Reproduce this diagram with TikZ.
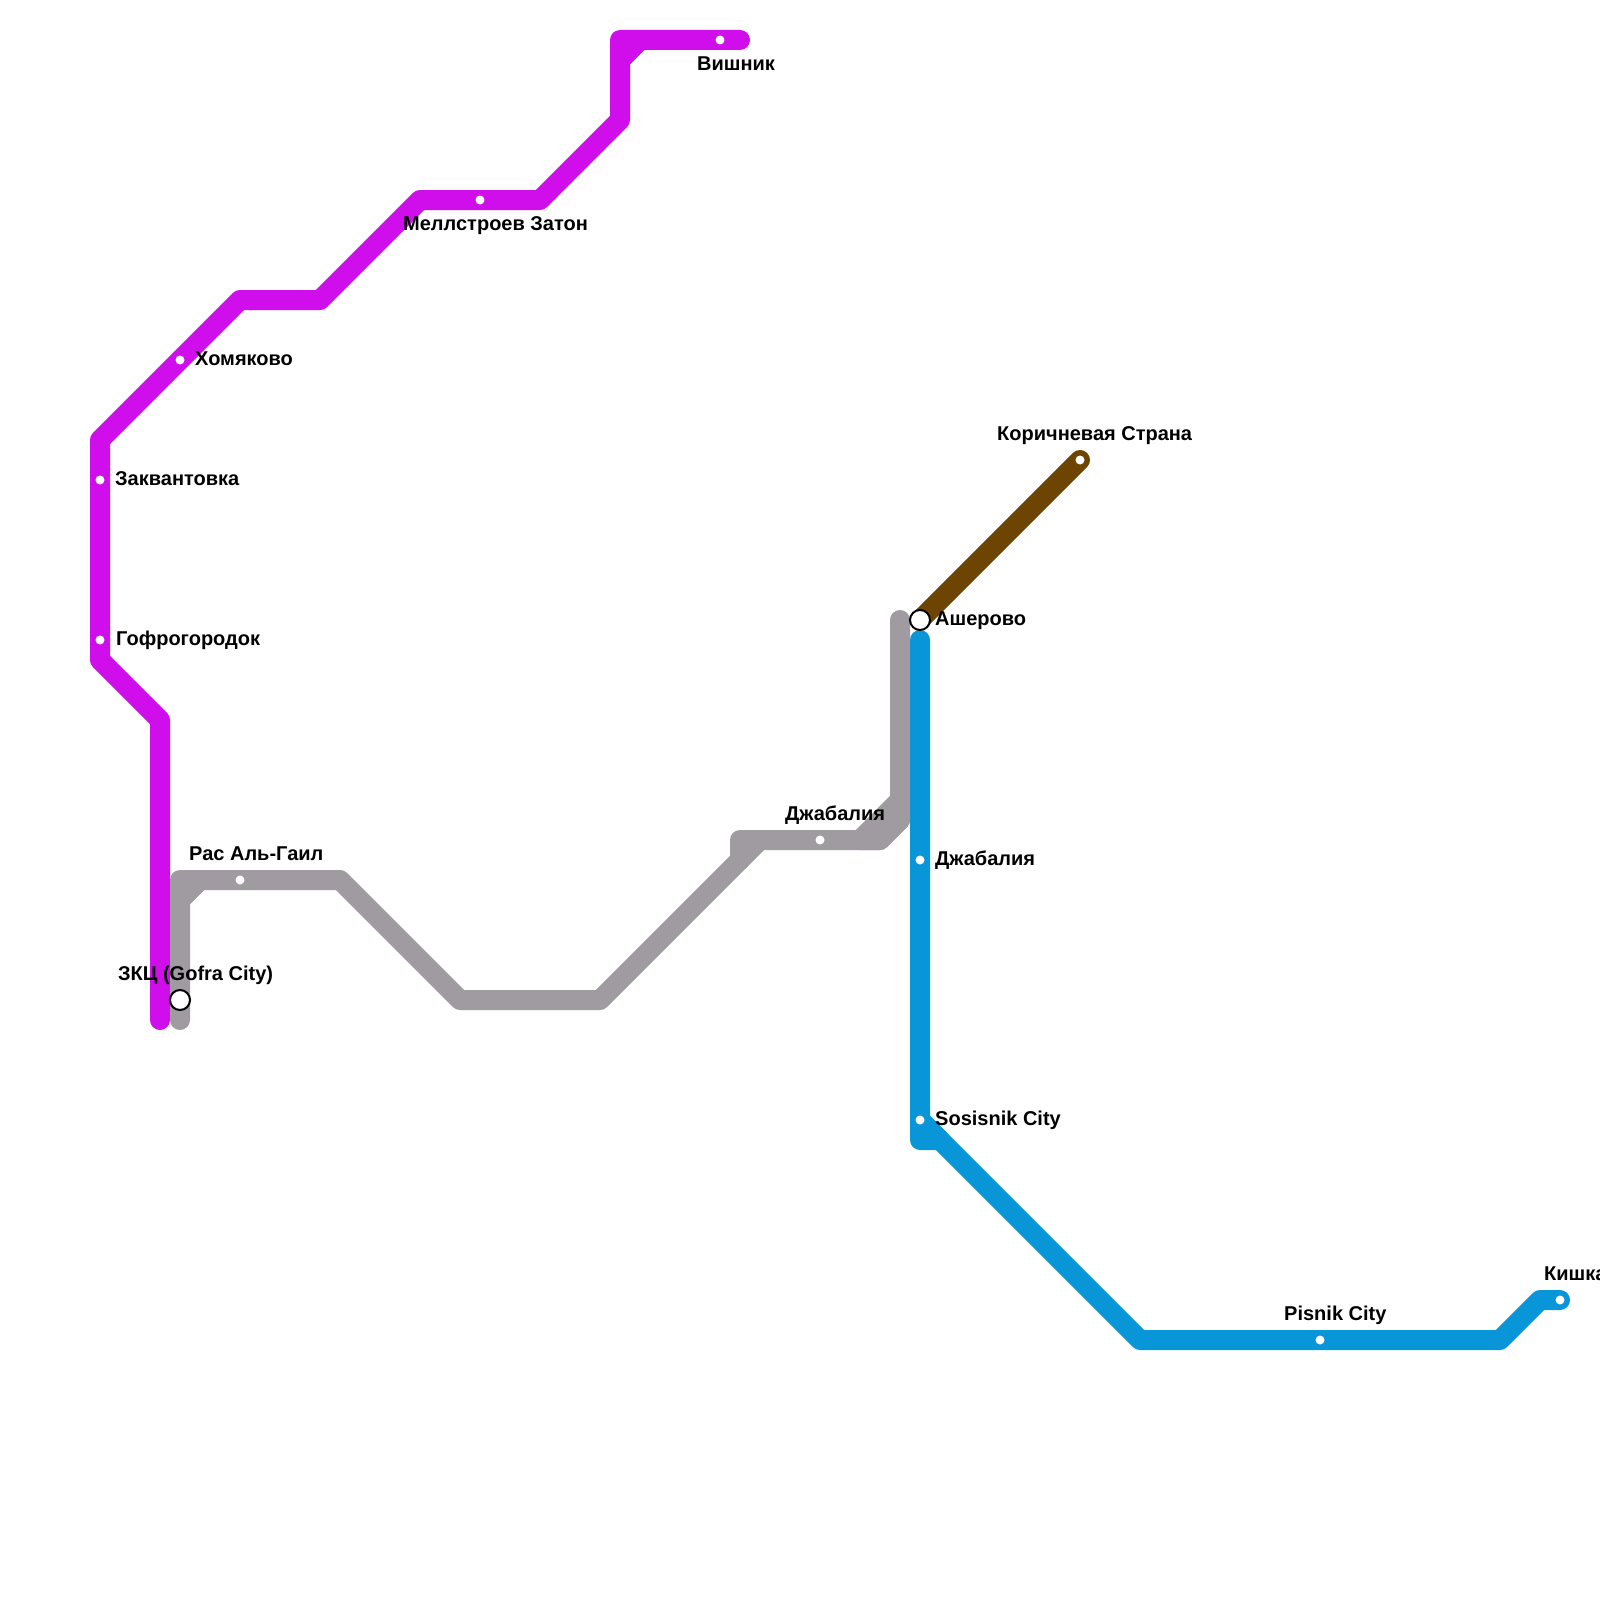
\documentclass[tikz,border=0pt]{standalone}
\usepackage{fontspec}
\setmainfont{Liberation Sans}
\definecolor{linepurple}{HTML}{D00EEC}
\definecolor{linegrey}{HTML}{A09BA1}
\definecolor{lineblue}{HTML}{0996D8}
\definecolor{linebrown}{HTML}{6E4500}
\tikzset{
  metro/.style={line width=20pt,line cap=round,line join=round},
  stub/.style={metro,fill=#1,draw=#1},
  dot/.style={circle,fill=white,draw=none,minimum size=9pt,inner sep=0pt},
  hub/.style={circle,fill=white,draw=black,line width=2pt,minimum size=20pt,inner sep=0pt},
  lbl/.style={anchor=base west,inner sep=0pt,font=\fontsize{20}{24}\selectfont\bfseries,text=black}
}
\begin{document}
\begin{tikzpicture}[x=1pt,y=-1pt]
\useasboundingbox (0,0) rectangle (1600,1600);
% bends, purple
\coordinate (p1) at (740,40);
\coordinate (p2) at (640,40);
\coordinate (p3) at (620,40);
\coordinate (p4) at (620,60);
\coordinate (p5) at (620,120);
\coordinate (p6) at (540,200);
\coordinate (p7) at (420,200);
\coordinate (p8) at (320,300);
\coordinate (p9) at (240,300);
\coordinate (p10) at (100,440);
\coordinate (p11) at (100,660);
\coordinate (p12) at (160,720);
\coordinate (p13) at (160,1020);
% bends, grey
\coordinate (g1) at (180,1020);
\coordinate (g2) at (180,900);
\coordinate (g3) at (180,880);
\coordinate (g4) at (200,880);
\coordinate (g5) at (340,880);
\coordinate (g6) at (460,1000);
\coordinate (g7) at (600,1000);
\coordinate (g8) at (760,840);
\coordinate (g9) at (740,840);
\coordinate (g10) at (740,860);
\coordinate (g11) at (860,840);
\coordinate (g12) at (880,840);
\coordinate (g13) at (900,820);
\coordinate (g14) at (900,800);
\coordinate (g15) at (900,620);
% bends, blue
\coordinate (b1) at (920,640);
\coordinate (b2) at (920,1120);
\coordinate (b3) at (920,1140);
\coordinate (b4) at (940,1140);
\coordinate (b5) at (1140,1340);
\coordinate (b6) at (1500,1340);
\coordinate (b7) at (1540,1300);
\coordinate (b8) at (1560,1300);
% brown ends
\coordinate (r1) at (920,620);
\coordinate (r2) at (1080,460);
% lines
\draw[metro,linepurple] (p1) -- (p2) -- (p4) -- (p5) -- (p6) -- (p7) -- (p8) -- (p9) -- (p10) -- (p11) -- (p12) -- (p13);
\draw[stub=linepurple] (p2) -- (p3) -- (p4) -- cycle;
\draw[metro,linegrey] (g1) -- (g2) -- (g4) -- (g5) -- (g6) -- (g7) -- (g10);
\draw[stub=linegrey] (g2) -- (g3) -- (g4) -- cycle;
\draw[stub=linegrey] (g8) -- (g9) -- (g10) -- cycle;
\draw[metro,linegrey] (g8) -- (g12) -- (g13) -- (g15);
\draw[stub=linegrey] (g11) -- (g14) -- (g13) -- (g12) -- cycle;
\draw[metro,linebrown] (r1) -- (r2);
\draw[metro,lineblue] (b1) -- (b2) -- (b5) -- (b6) -- (b7) -- (b8);
\draw[stub=lineblue] (b2) -- (b3) -- (b4) -- cycle;
% stations
\node[dot] (s1) at (720,40) {};
\node[dot] (s2) at (480,200) {};
\node[dot] (s3) at (180,360) {};
\node[dot] (s4) at (100,480) {};
\node[dot] (s5) at (100,640) {};
\node[dot] (s6) at (240,880) {};
\node[dot] (s7) at (820,840) {};
\node[dot] (s8) at (920,860) {};
\node[dot] (s9) at (920,1120) {};
\node[dot] (s10) at (1320,1340) {};
\node[dot] (s11) at (1560,1300) {};
\node[dot] (s12) at (1080,460) {};
\node[hub] (h1) at (180,1000) {};
\node[hub] (h2) at (920,620) {};
% labels
\node[lbl] (t1) at (697,71) {Вишник};
\node[lbl] (t2) at (403,230) {Меллстроев Затон};
\node[lbl] (t3) at (195,365) {Хомяково};
\node[lbl] (t4) at (115,485) {Заквантовка};
\node[lbl] (t5) at (116,645) {Гофрогородок};
\node[lbl] (t6) at (189,860) {Рас Аль-Гаил};
\node[lbl] (t7) at (118,980) {ЗКЦ (Gofra City)};
\node[lbl] (t8) at (785,820) {Джабалия};
\node[lbl] (t9) at (935,625) {Ашерово};
\node[lbl] (t10) at (935,865) {Джабалия};
\node[lbl] (t11) at (935,1125) {Sosisnik City};
\node[lbl] (t12) at (1284,1320) {Pisnik City};
\node[lbl] (t13) at (1544,1280) {Кишка};
\node[lbl] (t14) at (997,440) {Коричневая Страна};
\end{tikzpicture}
\end{document}
